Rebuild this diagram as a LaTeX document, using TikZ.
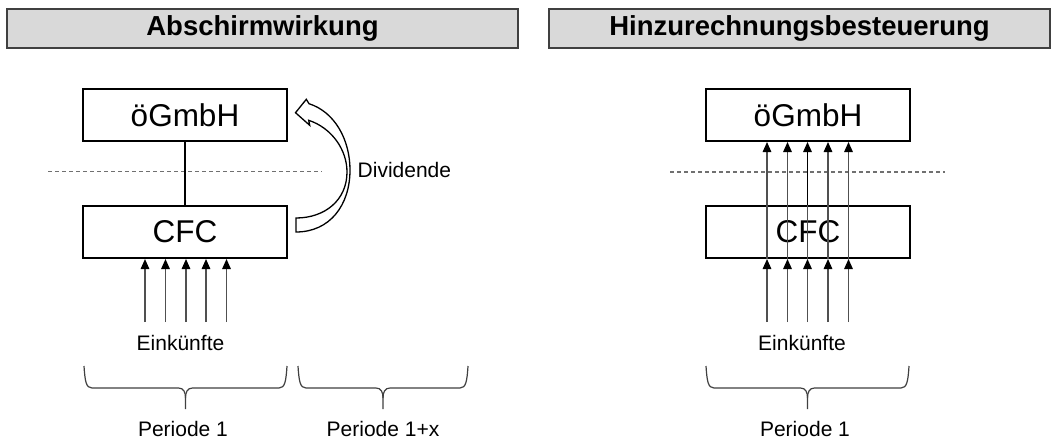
\documentclass[tikz,border=0pt]{standalone}
\usepackage{fontspec}
\setmainfont{Liberation Sans}
\usetikzlibrary{arrows.meta}

\definecolor{headfill}{HTML}{D9D9D9}
\definecolor{headline}{HTML}{404040}
\definecolor{flowgray}{HTML}{505050}
\definecolor{sepgray}{HTML}{707070}
\definecolor{bracegray}{HTML}{404040}

\tikzset{
  head/.style={draw=headline, fill=headfill, line width=1.5pt, minimum height=39pt,
    inner sep=0pt, font=\bfseries\fontsize{27.5}{32}\selectfont},
  ent/.style={draw=black, fill=white, line width=2pt, minimum width=204pt,
    minimum height=52pt, inner sep=0pt, font=\fontsize{31.5}{36}\selectfont},
  lbl/.style={inner sep=0pt, font=\fontsize{21}{25}\selectfont},
  flow/.style={draw=flowgray, line width=1.4pt, -{Triangle[length=10pt,width=8.5pt,black]}},
  sepline/.style={draw=sepgray, line width=1.4pt, dash pattern=on 4pt off 3pt},
  link/.style={draw=black, line width=1.7pt},
  bracepath/.style={draw=bracegray, line width=1.2pt},
  divarrow/.style={draw=black, fill=white, line width=1.3pt, line join=miter},
}

% curly brace under a period: left x, right x, top y
\newcommand\periodbrace[3]{%
  \pgfmathsetmacro\bxm{(#1+#2)/2}%
  \draw[bracepath] (#1,#3) .. controls (#1+1,#3+15) and (#1+2,#3+22) .. (#1+8,#3+22)
    -- (\bxm-7,#3+22) .. controls (\bxm-2,#3+22) and (\bxm,#3+26) .. (\bxm,#3+32)
    -- (\bxm,#3+43);
  \draw[bracepath] (#2,#3) .. controls (#2-1,#3+15) and (#2-2,#3+22) .. (#2-8,#3+22)
    -- (\bxm+7,#3+22) .. controls (\bxm+2,#3+22) and (\bxm,#3+26) .. (\bxm,#3+32);%
}

\begin{document}
\begin{tikzpicture}[x=1pt,y=-1pt]
\useasboundingbox (0,0) rectangle (1059,442);
\fill[white] (0,0) rectangle (1059,442);

% headings
\node[head, minimum width=511pt] (hL) at (262.5,28.5) {Abschirmwirkung};
\node[head, minimum width=501pt] (hR) at (799.5,28.5) {Hinzurechnungsbesteuerung};

% ---- left: shielding effect ----
\coordinate (dL1) at (48,171.5);
\coordinate (dL2) at (322,171.5);
\draw[sepline] (dL1) -- (dL2);

\node[ent] (gL) at (185,115) {öGmbH};
\node[ent] (cL) at (185,232) {CFC};
\draw[link] (gL.south) -- (cL.north);

\foreach \i/\x in {1/145,2/165.5,3/186,4/206,5/226.5}{
  \coordinate (inL\i) at (\x,322);
  \draw[flow] (inL\i) -- (inL\i |- cL.south);
}
\node[lbl] (eL) at (180.5,342.5) {Einkünfte};

% dividend paid up as a curved block arrow
\draw[divarrow] (295.5,112.7) -- (306.3,99.3) -- (309,103.7)
  .. controls (335,112) and (350,140) .. (350,170)
  .. controls (350,205) and (330,232) .. (296,232)
  -- (296,218)
  .. controls (325,218) and (347,200) .. (347,172)
  .. controls (347,150) and (332,128) .. (308.7,120.3)
  -- (309.7,125.3) -- cycle;
\node[lbl, anchor=west] (div) at (357.5,170) {Dividende};

\periodbrace{84}{287}{366}
\periodbrace{298}{468}{366}
\node[lbl] (p1L) at (183,429) {Periode 1};
\node[lbl] (pxL) at (383,429) {Periode 1+x};

% ---- right: attribution taxation ----
\coordinate (dR1) at (670,172);
\coordinate (dR2) at (945,172);
\draw[sepline] (dR1) -- (dR2);

\node[ent] (gR) at (808,115) {öGmbH};
\node[ent] (cR) at (808,232) {CFC};

\foreach \i/\x in {1/767,2/787.5,3/807.5,4/828,5/848.5}{
  \coordinate (inR\i) at (\x,322);
  \draw[flow] (inR\i) -- (inR\i |- cR.south);
  \draw[flow] (inR\i |- cR.south) -- (inR\i |- gR.south);
}
\draw[link, shorten >=6pt] (inR3 |- cR.north) -- (inR3 |- gR.south);
\node[lbl] (eR) at (802,342.5) {Einkünfte};

\periodbrace{706}{909}{366}
\node[lbl] (p1R) at (805,429) {Periode 1};
\end{tikzpicture}
\end{document}
